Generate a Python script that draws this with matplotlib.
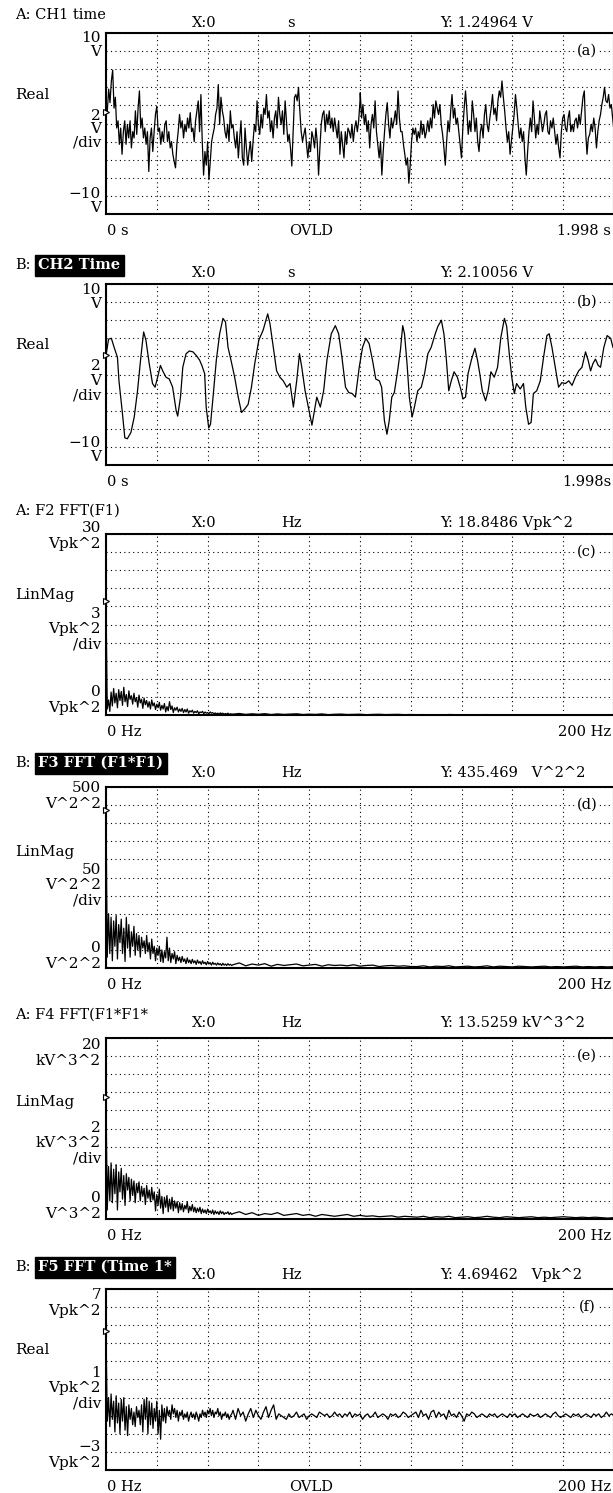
import numpy as np
import matplotlib.pyplot as plt

plt.rcParams['font.family'] = ['DejaVu Serif']

W, H = 613, 1493

# ---------------- data read off the screen dumps ----------------
# (a) CH1 time, volts, first and second second of the record
a_volts_1 = [1.2, 1.4, 3.8, 2.3, 4.7, 5.9, 1.7, 2.9, -0.5, 0.3, -2.3, -0.5, -3.4, -0.9, 0.3, -2.3, -0.1, -1.6, 0.3,
             -2.7, -0.9, -1.6, 1.4, -1.2, 1.7, 3.6, -0.5, 0.6, -1.6, -0.5, -2.3, -0.9, -5.3, -1.6, -0.5, -3.1, -0.9,
             1.0, 1.9, -0.9, -0.5, -2.3, -0.9, -2.0, -0.1, 0.3, -2.0, -0.9, -2.7, -2.0, -3.4, -4.2, -4.9, -2.3, -0.9,
             1.0, -0.5, 0.3, -1.6, -0.1, -0.9, 0.6, -0.5, 1.2, -0.9, -0.5, -2.0, 0.3, 1.4, 2.5, -0.9, 3.2, -2.0,
             -5.7, -3.1, -4.6, -2.0, -6.2, -4.2, -2.0, -1.2, -0.5, 1.0, 1.7, 4.3, -0.1, 2.9, 1.4, 0.6, -0.9, -1.6,
             -0.1, -2.0, 1.4, -0.5, -0.1, -1.6, -2.7, -0.9, -3.8, -1.6, 0.3, -3.8, -4.6, -0.5, -2.7, -4.6, -3.1,
             -2.0, -4.2, -2.0, -0.1, -0.9, 2.5, -0.1, -1.2, 1.0, -0.5, 1.7, 1.0, 3.2, 0.6, 1.4, -0.9, 0.3, -1.6, 0.6,
             1.4, -0.5, 2.9, 1.0, -0.1, 1.4, -1.2, 2.5, 0.3, -2.0, -1.2, -2.7, -4.7, -0.9, 2.9, 3.2, 2.5, 4.0, 1.4,
             -0.9, -2.0, -1.2, -0.5, -2.3, -3.8, -2.0, -3.1, -0.9, -1.6, -2.7, -0.5, -2.0, -5.7, -2.7, -0.1, 1.0,
             1.4, -0.9, 1.0, -0.1, 1.4, -0.5, 0.6, -0.9, 0.6, -0.5, -1.6, 0.3, -3.4, -0.9, -2.3, -3.8, -0.9, -2.3,
             -0.5, -0.9, -1.6, -0.1, -2.0, -0.5, 0.3, -0.9, 0.3, 2.5]
a_volts_2 = [3.4, 0.6, 2.1, -0.1, 1.0, -0.9, 0.3, -2.7, -0.1, 1.0, -0.5, 2.5, -0.9, -2.3, -3.8, -2.0, -5.7, -3.1,
             -0.9, 1.0, 2.3, -0.1, -1.6, 0.6, -0.5, 0.3, 1.4, -0.1, 3.6, 0.6, -0.9, -0.9, -2.3, -3.4, -4.6, -3.8,
             -6.6, -4.6, -2.0, -0.5, -1.2, -0.5, -2.0, -0.9, -1.6, 0.3, -1.2, -0.1, -1.6, -0.9, 0.3, -0.9, 0.6, -0.5,
             2.1, 0.6, 2.5, 1.7, 1.0, 2.1, -0.1, -1.2, -2.7, -4.6, -2.0, 0.3, -0.9, 1.4, 3.2, 0.6, 1.7, -0.1, 0.6,
             -0.9, -2.3, -3.8, -0.5, 1.7, 3.6, 1.4, -1.2, 0.3, -0.9, 2.5, 1.0, -0.9, 0.6, -2.0, -3.1, -0.9, -0.1,
             -1.6, 1.0, 2.1, -0.1, -0.9, 0.6, 1.7, 3.2, 1.0, 1.7, 0.3, 2.5, 3.6, 2.9, 4.7, 2.9, 1.4, -0.5, -2.0,
             -0.9, -3.4, -2.0, -0.5, 1.0, 3.2, 1.7, -0.1, -1.6, -0.5, -2.0, -0.9, -3.8, -5.7, -3.1, -0.9, 0.6, -0.9,
             2.5, 0.6, -1.6, -0.1, -1.2, 1.4, 0.3, -0.9, -0.1, 1.0, 1.4, -0.9, -1.2, 0.3, -0.5, 0.6, -0.9, -2.3,
             -1.2, -2.7, -3.8, -0.9, 0.6, 1.0, -0.5, -0.9, 0.6, 1.4, -0.9, -0.1, -0.9, 0.3, 0.6, -0.5, 1.0, -0.1,
             1.4, 2.9, 3.6, -0.9, -3.4, -1.6, -1.2, -0.1, -0.9, 0.6, -0.5, -2.7, -0.9, 0.3, 1.0, 2.1, 2.9, 4.0, 2.5,
             2.3, 3.2, 1.7, 2.1, 0.6, -0.9]

# (b) CH2 time, seconds / volts
b_time = [0.000, 0.010, 0.021, 0.032, 0.045, 0.051, 0.065, 0.074, 0.084, 0.098, 0.111, 0.124, 0.137, 0.148, 0.157,
          0.170, 0.183, 0.193, 0.203, 0.214, 0.223, 0.236, 0.249, 0.262, 0.276, 0.282, 0.293, 0.302, 0.315, 0.328,
          0.342, 0.355, 0.368, 0.377, 0.388, 0.394, 0.404, 0.411, 0.421, 0.434, 0.447, 0.460, 0.470, 0.480, 0.493,
          0.506, 0.520, 0.533, 0.546, 0.559, 0.572, 0.585, 0.601, 0.618, 0.636, 0.645, 0.658, 0.671, 0.684, 0.697,
          0.711, 0.724, 0.737, 0.750, 0.761, 0.770, 0.783, 0.796, 0.810, 0.820, 0.829, 0.843, 0.856, 0.869, 0.886,
          0.902, 0.915, 0.928, 0.942, 0.955, 0.968, 0.981, 0.996, 1.009, 1.022, 1.035, 1.048, 1.061, 1.075, 1.084,
          1.095, 1.105, 1.114, 1.124, 1.134, 1.147, 1.158, 1.167, 1.174, 1.184, 1.193, 1.204, 1.213, 1.226, 1.240,
          1.253, 1.266, 1.279, 1.295, 1.305, 1.319, 1.329, 1.338, 1.348, 1.358, 1.369, 1.382, 1.395, 1.404, 1.414,
          1.424, 1.437, 1.451, 1.461, 1.470, 1.480, 1.493, 1.503, 1.514, 1.527, 1.540, 1.553, 1.567, 1.576, 1.586,
          1.596, 1.606, 1.615, 1.629, 1.642, 1.651, 1.662, 1.672, 1.681, 1.694, 1.708, 1.721, 1.734, 1.743, 1.754,
          1.767, 1.780, 1.793, 1.807, 1.820, 1.833, 1.846, 1.859, 1.872, 1.886, 1.896, 1.906, 1.915, 1.925, 1.936,
          1.945, 1.958, 1.971, 1.985, 1.994]
b_volts = [2.1, 3.9, 4.0, 3.0, 1.9, -0.7, -4.4, -7.0, -7.1, -6.4, -4.7, -1.8, 1.9, 4.7, 3.8, 1.2, -1.0, -1.4, -0.3,
           1.0, 0.4, -0.3, -0.5, -1.4, -4.0, -4.6, -2.5, 0.8, 2.3, 2.6, 2.5, 2.1, 1.6, 1.0, 0.1, -3.6, -5.9, -5.5,
           -2.5, 1.6, 4.5, 6.2, 5.8, 3.0, 1.4, -0.3, -2.5, -4.2, -3.8, -3.3, -1.4, 1.2, 3.8, 4.9, 6.7, 5.6, 3.0, 0.4,
           -0.3, -0.7, -1.4, -1.0, -3.6, -0.7, 2.3, 0.8, -1.8, -3.6, -5.6, -4.0, -2.5, -3.6, -1.8, 1.6, 4.5, 5.4,
           4.5, 1.9, -1.4, -2.0, -2.1, -2.5, 0.8, 3.0, 4.0, 3.4, 1.6, -0.5, -0.7, -1.4, -5.1, -6.6, -5.1, -2.5,
           -2.0, 0.4, 2.7, 5.4, 4.5, 1.2, -2.5, -4.7, -3.6, -1.8, -1.4, 0.1, 2.3, 3.0, 4.5, 5.3, 6.0, 4.5, 1.9,
           -1.8, -0.7, 0.3, -0.3, -1.6, -2.7, -2.5, 0.1, 1.6, 2.9, 1.6, 0.1, -1.8, -2.9, -1.8, 0.3, -0.3, 0.8, 4.1,
           6.2, 5.3, 2.3, -0.3, -2.1, -1.0, -1.6, -1.0, -3.6, -5.5, -5.3, -2.1, -1.8, -0.7, 1.9, 4.3, 4.5, 3.0, 0.8,
           -1.4, -0.9, -1.0, -0.7, -1.2, -0.3, 0.4, 0.8, 2.5, 1.6, 0.4, 1.2, 1.7, 1.0, 0.8, 3.0, 4.3, 4.0, 3.0]

# FFT frequency axes (Hz): fine below 50 Hz, coarser above
freq_lo = np.arange(0, 50, 0.5)
freq_hi = np.arange(50, 200.01, 2.5)
freq_hi_f = np.arange(50, 200.01, 1.0)

# (c) F2 FFT(F1), Vpk^2
c_lo = [18.85, 1.0, 2.5, 0.6, 3.8, 1.5, 4.4, 2.0, 3.6, 1.2, 4.2, 2.4, 3.9, 1.6, 4.6, 2.2, 3.4, 1.4, 4.0, 2.6,
        3.2, 1.8, 3.6, 2.2, 2.9, 1.3, 3.3, 2.0, 2.6, 1.1, 2.8, 1.7, 2.4, 1.3, 2.2, 1.0, 2.5, 1.5, 2.0, 0.9,
        1.8, 1.2, 2.1, 0.8, 1.6, 1.0, 1.9, 0.5, 1.4, 0.7, 2.2, 0.9, 1.5, 0.4, 1.2, 0.8, 1.3, 0.5, 1.0, 0.6,
        1.1, 0.4, 0.9, 0.5, 1.0, 0.3, 0.7, 0.5, 0.8, 0.3, 0.6, 0.4, 0.7, 0.2, 0.5, 0.4, 0.6, 0.2, 0.5, 0.3,
        0.4, 0.2, 0.5, 0.3, 0.4, 0.15, 0.35, 0.2, 0.3, 0.15, 0.35, 0.2, 0.3, 0.1, 0.25, 0.15, 0.3, 0.1, 0.2, 0.15]
c_hi = [0.15, 0.25, 0.1, 0.2, 0.12, 0.22, 0.08, 0.18, 0.1, 0.15, 0.2, 0.08, 0.14, 0.1, 0.18, 0.06, 0.12, 0.15,
        0.08, 0.1, 0.13, 0.05, 0.1, 0.12, 0.07, 0.09, 0.11, 0.05, 0.08, 0.05, 0.07, 0.04, 0.06, 0.03, 0.08, 0.05,
        0.04, 0.06, 0.03, 0.05, 0.07, 0.04, 0.05, 0.03, 0.06, 0.04, 0.05, 0.03, 0.04, 0.06, 0.03, 0.05, 0.04,
        0.03, 0.05, 0.04, 0.06, 0.03, 0.04, 0.05, 0.04]

# (d) F3 FFT(F1*F1), V^2^2
d_lo = [435.5, 30, 150, 40, 140, 20, 130, 60, 145, 25, 120, 70, 135, 40, 110, 18, 140, 55, 120, 30,
        100, 60, 115, 35, 95, 50, 90, 30, 85, 55, 75, 40, 90, 45, 70, 25, 80, 40, 60, 20,
        55, 35, 60, 18, 50, 15, 45, 28, 85, 20, 55, 15, 40, 25, 45, 12, 35, 20, 30, 15,
        32, 18, 25, 12, 28, 15, 22, 12, 24, 14, 20, 10, 22, 13, 18, 10, 20, 12, 16, 9,
        18, 11, 15, 8, 16, 10, 13, 8, 14, 9, 12, 7, 13, 8, 11, 7, 12, 8, 10, 7]
d_hi = [9, 14, 6, 11, 8, 12, 5, 10, 7, 9, 11, 6, 8, 10, 5, 9, 7, 8, 6, 9, 5, 7, 8, 4, 6, 7, 5, 6, 4,
        4, 6, 3, 5, 4, 6, 3, 4, 5, 3, 4, 6, 3, 5, 4, 3, 5, 4, 3, 4, 5, 3, 4, 3, 4, 5, 3, 4, 3, 4, 3, 4]

# (e) F4 FFT(F1*F1*F1), kV^3^2
e_lo = [13.53, 1.0, 5.8, 2.0, 6.2, 1.8, 5.5, 2.8, 6.0, 1.0, 5.2, 3.0, 5.6, 2.2, 4.8, 1.5, 5.0, 3.2, 4.6, 2.0,
        4.4, 2.6, 4.2, 1.8, 3.9, 2.9, 4.1, 2.0, 3.6, 2.5, 3.4, 1.6, 3.7, 2.3, 3.2, 1.9, 3.5, 2.1, 3.0, 0.9,
        2.7, 1.5, 3.3, 1.2, 2.5, 0.6, 2.4, 1.3, 2.6, 0.8, 2.2, 1.1, 2.4, 0.9, 2.0, 1.2, 1.9, 0.7, 1.8, 1.0,
        1.7, 0.8, 1.5, 1.1, 1.9, 0.7, 1.4, 0.9, 1.6, 0.8, 1.3, 0.7, 1.2, 0.8, 1.3, 0.6, 1.1, 0.7, 1.0, 0.6,
        1.1, 0.7, 0.9, 0.6, 1.0, 0.5, 0.9, 0.6, 0.8, 0.5, 0.9, 0.6, 0.8, 0.5, 0.7, 0.6, 0.8, 0.5, 0.7, 0.5]
e_hi = [0.6, 0.8, 0.5, 0.7, 0.4, 0.6, 0.5, 0.7, 0.4, 0.5, 0.6, 0.4, 0.5, 0.3, 0.5, 0.4, 0.3, 0.4, 0.5, 0.3,
        0.4, 0.3, 0.35, 0.25, 0.3, 0.35, 0.2, 0.3, 0.25, 0.2, 0.3, 0.15, 0.25, 0.2, 0.3, 0.15, 0.2, 0.25, 0.15,
        0.2, 0.3, 0.2, 0.15, 0.25, 0.2, 0.15, 0.2, 0.25, 0.15, 0.2, 0.15, 0.2, 0.25, 0.2, 0.15, 0.2, 0.15, 0.2,
        0.15, 0.1, 0.15]

# (f) F5 FFT(Time 1*...), real part, Vpk^2
f_lo = [4.69, -0.3, 1.0, -0.6, 1.2, -0.2, 0.8, -0.9, 1.1, -0.4, 0.7, -1.0, 0.9, -0.3, 1.0, -0.8, 0.5, -1.1, 0.6,
        -0.2, 0.4, -0.5, 0.2, -0.6, 0.5, -0.1, 0.3, -0.5, 0.6, -0.9, 0.9, -0.2, 1.0, -1.0, 0.8, -0.5, 0.7, -0.7,
        0.4, -0.3, 0.8, -1.0, 0.3, -1.3, 0.6, -0.3, 0.4, -0.4, 0.5, 0.0, 0.3, -0.2, 0.6, 0.1, 0.4, -0.1, 0.3,
        -0.3, 0.2, 0.0, 0.3, -0.2, 0.1, -0.1, 0.2, -0.3, 0.0, 0.2, -0.1, 0.1, -0.2, 0.2, 0.0, -0.3, 0.1, -0.1,
        0.3, 0.0, 0.2, -0.1, 0.3, 0.1, 0.4, 0.0, 0.3, -0.1, 0.2, 0.1, 0.4, 0.0, 0.2, -0.2, 0.1, 0.0, 0.2, -0.1,
        0.1, -0.2, 0.0, 0.1]
f_hi = [0.3, -0.2, 0.4, 0.0, 0.2, -0.3, 0.1, 0.4, -0.1, 0.3, 0.0, -0.2, 0.2, 0.5, -0.1, 0.3, 0.6, -0.2, 0.1, 0.0,
        -0.1, -0.2, 0.1, -0.1, 0.0, 0.2, -0.1, 0.0, 0.1, -0.2, 0.0, 0.1, 0.0, -0.1, 0.2, 0.1, 0.0, 0.1, -0.1, 0.0,
        0.2, 0.0, 0.1, -0.1, 0.1, 0.0, 0.2, -0.1, 0.1, 0.0,
        0.1, -0.2, 0.0, 0.1, -0.1, 0.0, 0.2, -0.1, 0.0, 0.1, 0.0, -0.2, 0.1, 0.0, 0.1, -0.1, 0.0, 0.2, 0.1, -0.1,
        0.0, 0.1, 0.2, -0.1, 0.3, 0.0, 0.1, -0.2, 0.2, 0.3,
        -0.1, 0.2, 0.0, 0.1, -0.2, 0.3, 0.0, 0.1, -0.1, 0.2, 0.0, -0.3, 0.1, 0.0, 0.2, 0.1, -0.1, 0.0, 0.1, 0.0,
        -0.1, 0.1, 0.0, 0.1, -0.1, 0.0, 0.1, 0.0, -0.1, 0.1,
        0.0, 0.1, -0.1, 0.0, 0.1, 0.0, -0.1, 0.1, 0.0, 0.0, 0.1, -0.1, 0.0, 0.1, 0.0, -0.1, 0.1, 0.2, 0.0, -0.1,
        0.0, 0.1, 0.0, -0.1, 0.1, 0.0, 0.1, -0.1, 0.0, 0.1,
        0.0, -0.1, 0.1, 0.0, 0.1, -0.1, 0.0, 0.2, 0.0, 0.1, 0.0]

cursor_y = [1.24964, 2.10056, 18.8486, 435.469, 13.5259, 4.69462]
header_titles = ['A: CH1 time', 'B: CH2 Time', 'A: F2 FFT(F1)', 'B: F3 FFT (F1*F1)', 'A: F4 FFT(F1*F1*',
                 'B: F5 FFT (Time 1*']
header_units = ['s', 's', 'Hz', 'Hz', 'Hz', 'Hz']
header_y = ['Y: 1.24964 V', 'Y: 2.10056 V', 'Y: 18.8486 Vpk^2', 'Y: 435.469   V^2^2', 'Y: 13.5259 kV^3^2',
            'Y: 4.69462   Vpk^2']

# ---------------- drawing ----------------
fig = plt.figure(figsize=(W / 100, H / 100), dpi=100)
FS = 10.5
FS_LEFT = 11


def put(x, y, s, ha='left', size=FS, **kw):
    return fig.text(x / W, 1 - y / H, s, ha=ha, va='center', fontsize=size, **kw)


def screen(top, x, y, xmax, ylim, cursor, tag):
    ax = fig.add_axes([106 / W, 1 - (top + 181) / H, (614 - 106) / W, 181 / H])
    ax.plot(x, y, color='black', lw=0.9, zorder=3)
    ax.set_xlim(0, xmax)
    ax.set_ylim(*ylim)
    ax.set_xticks(np.linspace(0, xmax, 11))
    ax.set_yticks(np.linspace(ylim[0], ylim[1], 11))
    ax.tick_params(length=0, labelbottom=False, labelleft=False)
    ax.grid(True, color='black', linestyle=(0, (1, 3)), linewidth=0.8)
    for s in ax.spines.values():
        s.set_linewidth(1.5)
    ax.plot([0], [cursor], marker='>', ms=5, mfc='white', mec='black', mew=0.8, clip_on=False, zorder=5)
    put(587, top + 18, tag, ha='center', bbox=dict(facecolor='white', edgecolor='none', pad=1))
    return ax


def header(top, i, title_dy, row_dy):
    title = header_titles[i]
    if title.startswith('B'):
        put(15, top + title_dy, title[:2])
        put(38, top + title_dy, title[3:], color='white', fontweight='bold',
            bbox=dict(facecolor='black', edgecolor='black', pad=2.5))
    else:
        put(15, top + title_dy, title)
    put(192, top + row_dy, 'X:0')
    put(291, top + row_dy, header_units[i], ha='center')
    put(440, top + row_dy, header_y[i])


def left_labels(top, mode, labels, offs, spacing):
    put(15, top + offs[1], mode, size=FS_LEFT)
    for lbl, dy in zip(labels, [offs[0], offs[2], offs[3]]):
        put(101, top + dy, lbl, ha='right', multialignment='right', linespacing=spacing, size=FS_LEFT)


def bottom_labels(top, left, right, ovld):
    put(107, top + 198, left)
    if ovld:
        put(311, top + 198, 'OVLD', ha='center')
    put(611, top + 198, right, ha='right')


tops = [33, 284, 534, 787, 1038, 1289]

# (a)
t_a = np.concatenate([np.linspace(0, 0.999, len(a_volts_1)), np.linspace(1.0, 1.998, len(a_volts_2))])
screen(tops[0], t_a, a_volts_1 + a_volts_2, 1.998, (-10, 10), cursor_y[0], '(a)')
header(tops[0], 0, -18, -10)
left_labels(tops[0], 'Real', ['10\nV', '2\nV\n/div', '\u221210\nV'], [12, 62, 96, 168], 0.95)
bottom_labels(tops[0], '0 s', '1.998 s', True)

# (b)
screen(tops[1], b_time, b_volts, 1.998, (-10, 10), cursor_y[1], '(b)')
header(tops[1], 1, -19, -11)
left_labels(tops[1], 'Real', ['10\nV', '2\nV\n/div', '\u221210\nV'], [13, 61, 97, 166], 1.05)
bottom_labels(tops[1], '0 s', '1.998s', False)

# (c)
fc = np.concatenate([freq_lo, freq_hi])
screen(tops[2], fc, c_lo + c_hi, 200, (0, 30), cursor_y[2], '(c)')
header(tops[2], 2, -23, -11)
left_labels(tops[2], 'LinMag', ['30\nVpk^2', '3\nVpk^2\n/div', '0\nVpk^2'], [2, 61, 95, 166], 1.1)
bottom_labels(tops[2], '0 Hz', '200 Hz', False)

# (d)
screen(tops[3], fc, d_lo + d_hi, 200, (0, 500), cursor_y[3], '(d)')
header(tops[3], 3, -24, -14)
left_labels(tops[3], 'LinMag', ['500\nV^2^2', '50\nV^2^2\n/div', '0\nV^2^2'], [9, 65, 98, 169], 1.1)
bottom_labels(tops[3], '0 Hz', '200 Hz', False)

# (e)
screen(tops[4], fc, e_lo + e_hi, 200, (0, 20), cursor_y[4], '(e)')
header(tops[4], 4, -23, -15)
left_labels(tops[4], 'LinMag', ['20\nkV^3^2', '2\nkV^3^2\n/div', '0\nV^3^2'], [15, 64, 105, 168], 1.1)
bottom_labels(tops[4], '0 Hz', '200 Hz', False)

# (f)
ff = np.concatenate([freq_lo, freq_hi_f])
screen(tops[5], ff, f_lo + f_hi, 200, (-3, 7), cursor_y[5], '(f)')
header(tops[5], 5, -22, -14)
left_labels(tops[5], 'Real', ['7\nVpk^2', '1\nVpk^2\n/div', '\u22123\nVpk^2'], [14, 61, 99, 166], 1.1)
bottom_labels(tops[5], '0 Hz', '200 Hz', True)

fig.savefig('out.png', dpi=100)
